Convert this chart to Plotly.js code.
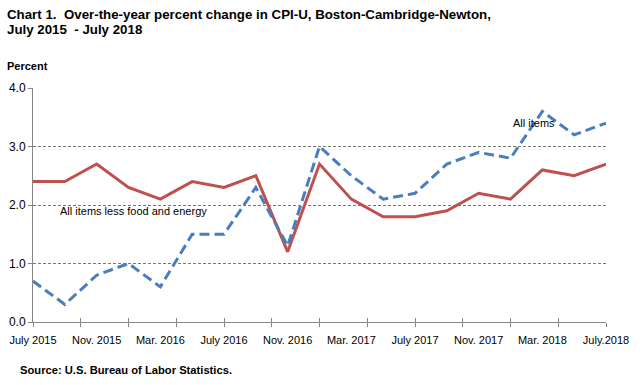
<!DOCTYPE html>
<html>
<head>
<meta charset="utf-8">
<script src="https://cdn.plot.ly/plotly-3.0.1.min.js"></script>
<style>
html,body{margin:0;padding:0;background:#fff;}
#chart{width:643px;height:385px;}
</style>
</head>
<body>
<div id="chart"></div>
<script>
// Bimonthly observations, July 2015 - July 2018
const months = ["Jul 2015","Sep 2015","Nov 2015","Jan 2016","Mar 2016","May 2016","Jul 2016","Sep 2016","Nov 2016","Jan 2017","Mar 2017","May 2017","Jul 2017","Sep 2017","Nov 2017","Jan 2018","Mar 2018","May 2018","Jul 2018"];
const allItems = [0.7,0.3,0.8,1.0,0.6,1.5,1.5,2.3,1.3,3.0,2.5,2.1,2.2,2.7,2.9,2.8,3.6,3.2,3.4];
const coreItems = [2.4,2.4,2.7,2.3,2.1,2.4,2.3,2.5,1.2,2.7,2.1,1.8,1.8,1.9,2.2,2.1,2.6,2.5,2.7];
const tickLabels = ["July 2015","Nov. 2015","Mar. 2016","July 2016","Nov. 2016","Mar. 2017","July 2017","Nov. 2017","Mar. 2018","July.2018"];
const tickIdx = [0,2,4,6,8,10,12,14,16,18];
const yTicks = [0,1,2,3,4];

const xIdx = months.map((m,i)=>i);

const traces = [
  {x:xIdx, y:coreItems, type:'scatter', mode:'lines', name:'All items less food and energy',
   line:{color:'#C0504D', width:3}, hoverinfo:'y'},
  {x:xIdx, y:allItems, type:'scatter', mode:'lines', name:'All items',
   line:{color:'#4A7EBB', width:3, dash:'10px,5px'}, hoverinfo:'y'},
  {x:[0], y:[null], xaxis:'x2', yaxis:'y', showlegend:false, hoverinfo:'skip'},
  {x:[0], y:[null], xaxis:'x3', yaxis:'y', showlegend:false, hoverinfo:'skip'}
];

const baseFont = {family:'"Liberation Sans", Arial, sans-serif', color:'#000'};
const titleFont = {family:'"Liberation Sans Narrow", "Liberation Sans", Arial, sans-serif', size:13.3, color:'#000'};

const layout = {
  width:643, height:385,
  margin:{l:33, r:37, t:88, b:63},
  paper_bgcolor:'#fff', plot_bgcolor:'#fff',
  showlegend:false,
  xaxis:{
    range:[0,18], tickvals:tickIdx, ticktext:tickLabels, ticks:'',
    showgrid:false, zeroline:false, showline:true, linecolor:'#868686', linewidth:1,
    tickfont:Object.assign({size:11}, baseFont), ticklabelstandoff:8, fixedrange:true
  },
  xaxis2:{
    overlaying:'x', range:[0,18], tick0:0, dtick:1.5, tickmode:'linear', ticks:'outside', ticklen:4,
    tickcolor:'#868686', showticklabels:false, showgrid:false, zeroline:false, showline:false
  },
  xaxis3:{
    overlaying:'x', range:[0,18], tick0:0, dtick:1.5, tickmode:'linear', ticks:'inside', ticklen:4,
    tickcolor:'#868686', showticklabels:false, showgrid:false, zeroline:false, showline:false
  },
  yaxis:{
    range:[0,4], tickvals:yTicks, tickformat:'.1f', ticks:'outside', ticklen:4, tickcolor:'#868686',
    showgrid:true, gridcolor:'#6f7a6a', griddash:'3px,2px', gridwidth:1,
    zeroline:false, showline:true, linecolor:'#868686', linewidth:1,
    tickfont:Object.assign({size:12}, baseFont), fixedrange:true
  },
  annotations:[
    {xref:'paper', yref:'paper', x:-33/573, y:1+88/234, yshift:-5, xshift:5, xanchor:'left', yanchor:'top',
     text:'<b>Chart 1.  Over-the-year percent change in CPI-U, Boston-Cambridge-Newton,</b>', showarrow:false,
     font:titleFont},
    {xref:'paper', yref:'paper', x:-33/573, y:1+88/234, yshift:-20, xshift:5, xanchor:'left', yanchor:'top',
     text:'<b>July 2015  - July 2018</b>', showarrow:false,
     font:titleFont},
    {xref:'paper', yref:'paper', x:-33/573, y:1+88/234, yshift:-58, xshift:5, xanchor:'left', yanchor:'top',
     text:'<b>Percent</b>', showarrow:false,
     font:Object.assign({size:11}, baseFont)},
    {xref:'paper', yref:'paper', x:-33/573, y:-48/234, xshift:18, xanchor:'left', yanchor:'middle',
     text:'<b>Source: U.S. Bureau of Labor Statistics.</b>', showarrow:false,
     font:Object.assign({size:11.2}, baseFont)},
    {xref:'x', yref:'y', x:0.8, y:1.9, xanchor:'left', yanchor:'middle',
     text:'All items less food and energy', showarrow:false, font:Object.assign({size:11}, baseFont)},
    {xref:'x', yref:'y', x:15.0, y:3.41, xanchor:'left', yanchor:'middle',
     text:'All items', showarrow:false, font:Object.assign({size:11}, baseFont)}
  ]
};

Plotly.newPlot('chart', traces, layout, {displayModeBar:false, staticPlot:true});
</script>
</body>
</html>
